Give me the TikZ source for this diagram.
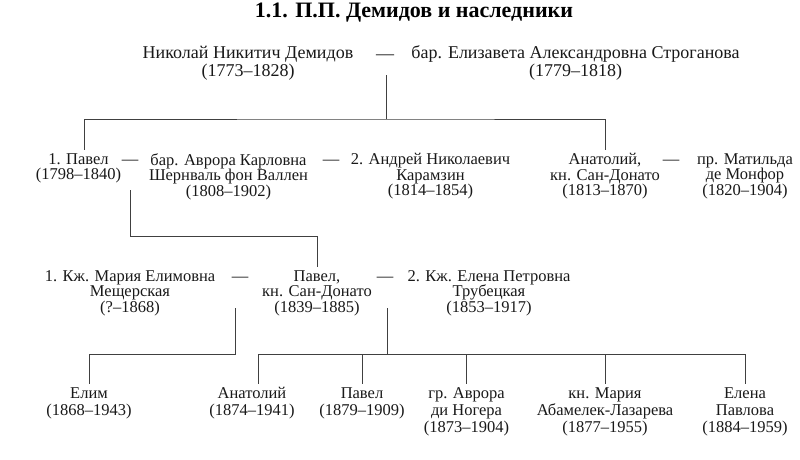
\documentclass[tikz,border=0pt]{standalone}
\usepackage{fontspec}
\setmainfont{Liberation Serif}
\usetikzlibrary{positioning}
\newcommand{\tightlines}{\setlength{\lineskiplimit}{-20pt}}
\begin{document}
\begin{tikzpicture}[x=1pt,y=-1pt,
    person/.style={align=center,anchor=north,inner sep=3pt,outer sep=1pt,text=black!90},
    big/.style={font=\fontsize{18}{18}\selectfont\tightlines},
    mid/.style={font=\fontsize{16.5}{15.5}\selectfont\tightlines},
    low/.style={font=\fontsize{16.5}{17}\selectfont\tightlines},
    wed/.style={anchor=base,inner sep=0pt,text=black!90},
    link/.style={draw=black!75,line width=1pt}
  ]
  \useasboundingbox[fill=white] (0,0) rectangle (800,459);

  \node[font=\bfseries\fontsize{22}{24}\selectfont] (title) at (414,13) {1.1. П.П. Демидов и наследники};

  \node[person,big] (nik) at (248,42) {Николай Никитич Демидов\\(1773–1828)};
  \node[wed,big] (d0) at (385,59) {—};
  \node[person,big] (eliz) at (575.5,42) {бар. Елизавета Александровна Строганова\\(1779–1818)};

  \node[person,mid] (pav) at (78.5,149.5) {1. Павел\\(1798–1840)};
  \node[wed,mid] (d1) at (130,164) {—};
  \node[person,mid] (avr) at (228.5,149.5) {бар. Аврора Карловна\\Шернваль фон Валлен\\(1808–1902)};
  \node[wed,mid] (d2) at (331,164) {—};
  \node[person,mid] (kar) at (430.5,149.5) {2. Андрей Николаевич\\Карамзин\\(1814–1854)};
  \node[person,mid] (anat) at (605,149.5) {Анатолий,\\кн. Сан-Донато\\(1813–1870)};
  \node[wed,mid] (d3) at (671,164) {—};
  \node[person,mid] (mat) at (745,149.5) {пр. Матильда\\де Монфор\\(1820–1904)};

  \node[person,mid] (mar) at (130,266.5) {1. Кж. Мария Елимовна\\Мещерская\\(?–1868)};
  \node[wed,mid] (d4) at (240,281) {—};
  \node[person,mid] (pav2) at (317,266.5) {Павел,\\кн. Сан-Донато\\(1839–1885)};
  \node[wed,mid] (d5) at (385,281) {—};
  \node[person,mid] (ele) at (489,266.5) {2. Кж. Елена Петровна\\Трубецкая\\(1853–1917)};

  \node[person,low] (elim) at (89,383.5) {Елим\\(1868–1943)};
  \node[person,low] (anat2) at (252,383.5) {Анатолий\\(1874–1941)};
  \node[person,low] (pav3) at (362,383.5) {Павел\\(1879–1909)};
  \node[person,low] (avr2) at (466.5,383.5) {гр. Аврора\\ди Ногера\\(1873–1904)};
  \node[person,low] (mar2) at (605,383.5) {кн. Мария\\Абамелек-Лазарева\\(1877–1955)};
  \node[person,low] (ele2) at (745,383.5) {Елена\\Павлова\\(1884–1959)};

  \coordinate (m0) at (386,75);
  \coordinate (k0) at (386,119);
  \draw[link] (m0) -- (k0);
  \draw[link] ([xshift=5.5]pav.north) |- (k0) -| (anat.north);

  \coordinate (m1) at (130,190);
  \coordinate (k1) at (130,236);
  \draw[link] (m1) -- (k1) -| (pav2.north);

  \coordinate (m2) at (235,308);
  \coordinate (k2) at (235,354);
  \draw[link] (m2) -- (k2) -| (elim.north);

  \coordinate (m3) at (387,308);
  \coordinate (k3) at (387,354);
  \draw[link] (m3) -- (k3);
  \draw[link] ([xshift=6]anat2.north) |- (k3) -| (ele2.north);
  \foreach \c in {pav3,avr2,mar2}
    \draw[link] (\c.north) -- (\c.north |- k3);
\end{tikzpicture}
\end{document}
